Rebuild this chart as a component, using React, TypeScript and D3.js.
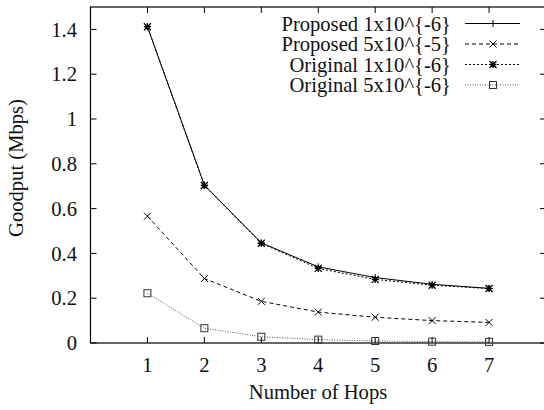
import React from "react";
import * as d3 from "d3";

const hops = [1, 2, 3, 4, 5, 6, 7];
const proposed1e6 = [1.412, 0.705, 0.447, 0.34, 0.292, 0.262, 0.244];
const proposed5e5 = [0.566, 0.288, 0.186, 0.138, 0.115, 0.1, 0.092];
const original1e6 = [1.412, 0.703, 0.445, 0.333, 0.284, 0.258, 0.243];
const original5e6 = [0.222, 0.066, 0.028, 0.015, 0.009, 0.006, 0.005];
const yTicks = [0, 0.2, 0.4, 0.6, 0.8, 1, 1.2, 1.4];
const xTicks = [1, 2, 3, 4, 5, 6, 7];
const seriesNames = [
  "Proposed 1x10^{-6}",
  "Proposed 5x10^{-5}",
  "Original 1x10^{-6}",
  "Original 5x10^{-6}",
];

const W = 544, H = 410;
const L = 90.5, R = 546, T = 7, B = 343;
const FONT = "Liberation Serif";

type Style = { dash?: string; color: string; marker: string };
const styles: Style[] = [
  { color: "#000", marker: "plus" },
  { color: "#000", dash: "4,3", marker: "cross" },
  { color: "#000", dash: "2,2", marker: "star" },
  { color: "#555", dash: "1,1.5", marker: "square" },
];

function Marker({ x, y, kind, color }: { x: number; y: number; kind: string; color: string }) {
  const s = 3.5;
  const common = { stroke: kind === "square" ? "#333" : color, strokeWidth: 1, fill: "none" };
  if (kind === "plus")
    return <path d={`M${x - s},${y}H${x + s}M${x},${y - s}V${y + s}`} {...common} />;
  if (kind === "cross")
    return <path d={`M${x - s},${y - s}L${x + s},${y + s}M${x - s},${y + s}L${x + s},${y - s}`} {...common} />;
  if (kind === "star")
    return (
      <path
        d={`M${x - s},${y}H${x + s}M${x},${y - s}V${y + s}M${x - s},${y - s}L${x + s},${y + s}M${x - s},${y + s}L${x + s},${y - s}`}
        {...common}
        strokeWidth={1.3}
      />
    );
  return <rect x={x - s} y={y - s} width={2 * s} height={2 * s} {...common} />;
}

export default function App() {
  const x = d3.scaleLinear().domain([0, 8]).range([L, R]);
  const y = d3.scaleLinear().domain([0, 1.5]).range([B, T]);
  const data = [proposed1e6, proposed5e5, original1e6, original5e6];
  const line = d3
    .line<number>()
    .x((_, i) => x(hops[i]))
    .y((d) => y(d));
  const tickLen = 6;
  const legendRows = [23.5, 44, 64.5, 85];
  const txt = { fontFamily: FONT, fontSize: "20.6px", fill: "#111" };
  return (
    <svg width={W} height={H} style={{ position: "absolute", left: 0, top: 0, background: "#fff" }}>
      <rect width={W} height={H} fill="#fff" />
      {yTicks.map((t) => (
        <g key={"y" + t}>
          <line x1={L} x2={L + tickLen} y1={y(t)} y2={y(t)} stroke="#000" />
          <line x1={R} x2={R - tickLen} y1={y(t)} y2={y(t)} stroke="#000" />
          <text x={77} y={y(t)} dy="0.35em" textAnchor="end" style={txt}>
            {String(t)}
          </text>
        </g>
      ))}
      {xTicks.map((t) => (
        <g key={"x" + t}>
          <line x1={x(t)} x2={x(t)} y1={B} y2={B - tickLen} stroke="#000" />
          <line x1={x(t)} x2={x(t)} y1={T} y2={T + tickLen} stroke="#000" />
          <text x={x(t)} y={371.5} textAnchor="middle" style={txt}>
            {String(t)}
          </text>
        </g>
      ))}
      <rect x={L} y={T} width={R - L} height={B - T} fill="none" stroke="#000" strokeWidth={1.2} />
      {data.map((vals, si) => (
        <g key={"s" + si}>
          <path d={line(vals) || ""} fill="none" stroke={styles[si].color} strokeWidth={1} strokeDasharray={styles[si].dash} />
          {vals.map((v, i) => (
            <Marker key={i} x={x(hops[i])} y={y(v)} kind={styles[si].marker} color={styles[si].color} />
          ))}
        </g>
      ))}
      {seriesNames.map((name, i) => (
        <g key={"l" + i}>
          <text x={451} y={legendRows[i]} dy="0.35em" textAnchor="end" style={txt}>
            {name}
          </text>
          <line x1={465} x2={520} y1={legendRows[i]} y2={legendRows[i]} stroke={styles[i].color} strokeDasharray={styles[i].dash} />
          <Marker x={493} y={legendRows[i]} kind={styles[i].marker} color={styles[i].color} />
        </g>
      ))}
      <text x={318} y={399} textAnchor="middle" style={txt}>
        Number of Hops
      </text>
      <text transform={`translate(22.5,168) rotate(-90)`} textAnchor="middle" style={txt}>
        Goodput (Mbps)
      </text>
    </svg>
  );
}
